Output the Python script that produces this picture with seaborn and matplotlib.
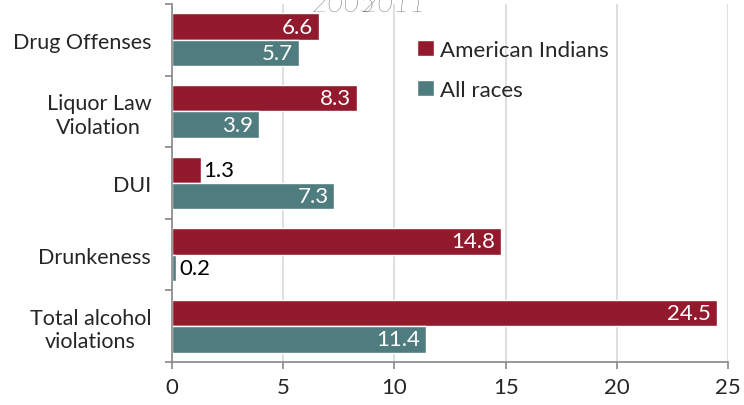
import numpy as np
import pandas as pd
import matplotlib
matplotlib.use("Agg")
import matplotlib.pyplot as plt
import seaborn as sns

# arrest rates by offense, 2005-2011
offenses = ["Drug Offenses", "Liquor Law\nViolation", "DUI", "Drunkeness",
            "Total alcohol\nviolations"]
american_indians = [6.6, 8.3, 1.3, 14.8, 24.5]
all_races = [5.7, 3.9, 7.3, 0.2, 11.4]
groups = ["American Indians", "All races"]
x_ticks = [0, 5, 10, 15, 20, 25]

red = "#921A2C"
teal = "#4F7C7F"

sns.set_style("white")
plt.rcParams["font.family"] = ["Lato", "DejaVu Sans"]

df = pd.DataFrame({
    "offense": offenses * 2,
    "rate": american_indians + all_races,
    "group": [groups[0]] * len(offenses) + [groups[1]] * len(offenses),
})

fig = plt.figure(figsize=(7.44, 4.06), dpi=100)
ax = fig.add_axes([172 / 744, 1 - 363 / 406, (728 - 172) / 744, (363 - 5) / 406])

sns.barplot(data=df, y="offense", x="rate", hue="group", orient="h",
            palette=[red, teal], saturation=1, width=0.74, ax=ax)

ax.set_xlim(0, 25)
ax.set_ylim(4.5, -0.5)
ax.set_xticks(x_ticks)
ax.set_xticklabels([str(t) for t in x_ticks], fontsize=16)
ax.set_xlabel("")
ax.set_ylabel("")

# y labels centred, ticks at the category borders
ax.set_yticks(range(len(offenses)))
ax.set_yticklabels(offenses, fontsize=15.5, multialignment="center")
ax.set_yticks(np.arange(-0.5, len(offenses)), minor=True)
ax.tick_params(axis="y", which="major", length=0, pad=15)
ax.tick_params(axis="y", which="minor", length=5, color="#888888", width=1.2, left=True)
ax.tick_params(axis="x", length=5, color="#888888", width=1.2, bottom=True, pad=6)

ax.grid(axis="x", color="#d9d9d9", linewidth=1.2)
ax.set_axisbelow(True)
for s in ["top", "right"]:
    ax.spines[s].set_visible(False)
for s in ["left", "bottom"]:
    ax.spines[s].set_color("#888888")
    ax.spines[s].set_linewidth(1.2)

# value labels
for cont in ax.containers:
    for bar in cont:
        w = bar.get_width()
        yc = bar.get_y() + bar.get_height() / 2
        if w < 2:
            ax.annotate(f"{w:.1f}", (w, yc), xytext=(2, 0), textcoords="offset points",
                        ha="left", va="center", fontsize=16, color="black")
        else:
            ax.annotate(f"{w:.1f}", (w, yc), xytext=(-4, 0), textcoords="offset points",
                        ha="right", va="center", fontsize=16, color="white")

handles, labels = ax.get_legend_handles_labels()
ax.legend(handles, labels, loc="upper left", frameon=False, fontsize=16,
          bbox_to_anchor=(417 / 744, 1 - 41 / 406), bbox_transform=fig.transFigure,
          handlelength=0.75, handleheight=0.75, handletextpad=0.3, labelspacing=0.9,
          borderpad=0, borderaxespad=0)

# title, mostly cut off at the top edge
fig.text(312 / 744, 1 - 12 / 406, "2005", fontsize=20, style="italic",
         weight="light", color="#222222", va="baseline")
fig.text(362 / 744, 1 - 12 / 406, "2011", fontsize=20, style="italic",
         weight="light", color="#222222", va="baseline")

fig.savefig("out.png", dpi=100)
